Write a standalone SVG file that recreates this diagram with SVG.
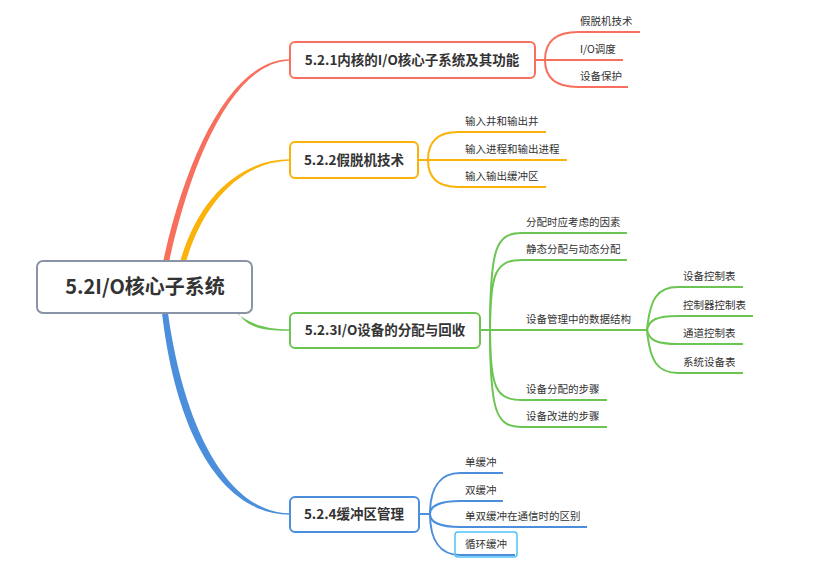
<svg xmlns="http://www.w3.org/2000/svg" width="838" height="566" viewBox="0 0 838 566">
<style>
text{font-family:"Noto Sans CJK SC","Noto Sans",sans-serif;fill:#333}
.c{font-size:10.5px}
.b{font-size:13.5px;font-weight:bold;text-anchor:middle}
.r{font-size:20px;font-weight:bold;text-anchor:middle}
.box{fill:#fff;stroke-width:2}
.ln{fill:none;stroke-width:2}
.red{stroke:#F7705E}.yel{stroke:#F9B30A}.grn{stroke:#6CC553}.blu{stroke:#4B8EDC}
</style>
<rect width="838" height="566" fill="#fff"/>
<g id="connectors">
<path d="M163,262 C188,148 234,59.3 290,59.3 L290,60.7 C236,61.5 193,152 169,262 Z" fill="#F7705E"/>
<path d="M180,262 C198,198 240,159.3 290,159.3 L290,160.7 C242,161.5 203,202 186,262 Z" fill="#F9B30A"/>
<path d="M235,312 C250,324 265,329.2 290,329.2 L290,330.8 C264,331 248,328 239,314 Z" fill="#6CC553"/>
<path d="M162,313 C176,434 222,514.7 290,514.7 L290,513.3 C228,513 184,428 168,313 Z" fill="#4B8EDC"/>
<g class="red ln">
<path d="M535,60 L545,60"/>
<path d="M545,60 C545,42 556,32 578,32 L640,32"/>
<path d="M545,60 L623,60"/>
<path d="M545,60 C545,78 556,87 578,87 L628,87"/>
</g>
<g class="yel ln">
<path d="M418,160 L428,160"/>
<path d="M428,160 C428,142 438,132 458,132 L546,132"/>
<path d="M428,160 L567,160"/>
<path d="M428,160 C428,178 438,187 458,187 L546,187"/>
</g>
<g class="grn ln">
<path d="M480,330 L490,330"/>
<path d="M490,330 C490,248 496,233 522,233 L627,233"/>
<path d="M490,330 C490,272 496,260 522,260 L627,260"/>
<path d="M490,330 L647,330"/>
<path d="M490,330 C490,388 496,400 522,400 L607,400"/>
<path d="M490,330 C490,412 496,427 522,427 L607,427"/>
<path d="M647,330 C650,298 658,287 678,287 L743,287"/>
<path d="M647,330 C649,320 656,316 678,316 L753,316"/>
<path d="M647,330 C649,340 656,344 678,344 L743,344"/>
<path d="M647,330 C650,362 658,373 678,373 L743,373"/>
</g>
<g class="blu ln">
<path d="M419,514 L430,514"/>
<path d="M430,514 C430,488 440,473 460,473 L503,473"/>
<path d="M430,514 C430,506 440,501 460,501 L503,501"/>
<path d="M430,514 C430,522 440,527 460,527 L587,527"/>
<path d="M430,514 C430,540 440,555 460,555 L515,555"/>
</g>
</g>
<g id="root">
<rect x="37" y="261" width="215" height="52" rx="6" fill="#fff" stroke="#8A93A6" stroke-width="2"/>
<text class="r" x="145" y="294">5.2I/O核心子系统</text>
</g>
<g id="n1">
<rect class="box red" x="290" y="42" width="245" height="36" rx="5"/>
<text class="b" x="412" y="65">5.2.1内核的I/O核心子系统及其功能</text>
</g>
<g id="n1a"><text class="c" x="580" y="25">假脱机技术</text></g>
<g id="n1b"><text class="c" x="580" y="53">I/O调度</text></g>
<g id="n1c"><text class="c" x="580" y="80">设备保护</text></g>
<g id="n2">
<rect class="box yel" x="290" y="142" width="128" height="36" rx="5"/>
<text class="b" x="354" y="165">5.2.2假脱机技术</text>
</g>
<g id="n2a"><text class="c" x="465" y="125">输入井和输出井</text></g>
<g id="n2b"><text class="c" x="465" y="153">输入进程和输出进程</text></g>
<g id="n2c"><text class="c" x="465" y="180">输入输出缓冲区</text></g>
<g id="n3">
<rect class="box grn" x="290" y="313" width="190" height="35" rx="5"/>
<text class="b" x="385" y="335">5.2.3I/O设备的分配与回收</text>
</g>
<g id="n3a"><text class="c" x="526" y="226">分配时应考虑的因素</text></g>
<g id="n3b"><text class="c" x="526" y="253">静态分配与动态分配</text></g>
<g id="n3c"><text class="c" x="526" y="323">设备管理中的数据结构</text></g>
<g id="n3d"><text class="c" x="526" y="393">设备分配的步骤</text></g>
<g id="n3e"><text class="c" x="526" y="420">设备改进的步骤</text></g>
<g id="n3c1"><text class="c" x="683" y="280">设备控制表</text></g>
<g id="n3c2"><text class="c" x="683" y="309">控制器控制表</text></g>
<g id="n3c3"><text class="c" x="683" y="337">通道控制表</text></g>
<g id="n3c4"><text class="c" x="683" y="366">系统设备表</text></g>
<g id="n4">
<rect class="box blu" x="290" y="497" width="129" height="35" rx="5"/>
<text class="b" x="354" y="519">5.2.4缓冲区管理</text>
</g>
<g id="n4a"><text class="c" x="465" y="466">单缓冲</text></g>
<g id="n4b"><text class="c" x="465" y="494">双缓冲</text></g>
<g id="n4c"><text class="c" x="465" y="520">单双缓冲在通信时的区别</text></g>
<g id="n4d">
<rect x="455" y="532" width="62" height="25" rx="3" fill="none" stroke="#4FC3F7" stroke-width="1.5"/>
<text class="c" x="465" y="548">循环缓冲</text>
</g>
</svg>
